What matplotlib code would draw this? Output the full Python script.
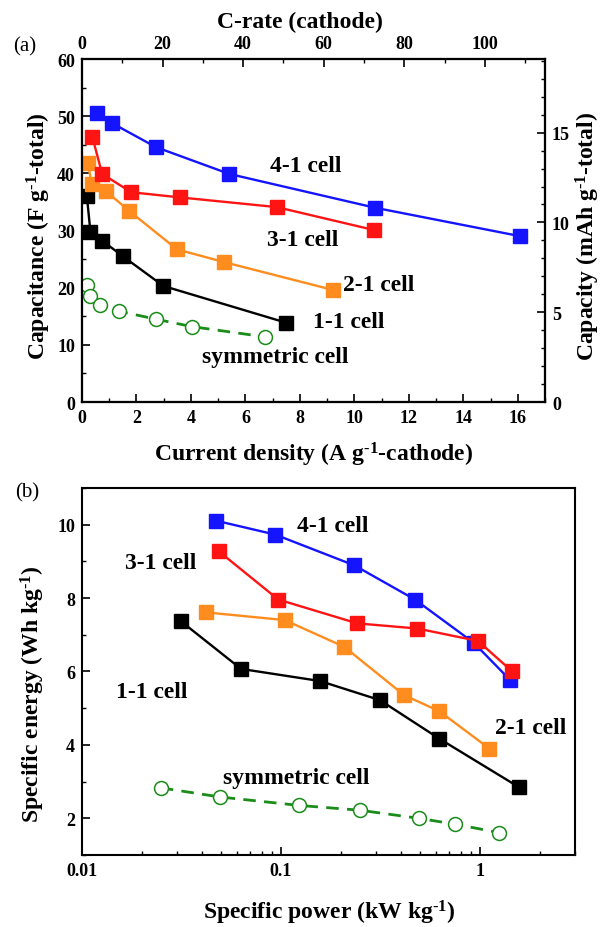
import numpy as np
import matplotlib.pyplot as plt
from matplotlib.ticker import MultipleLocator, LogLocator, NullFormatter

plt.rcParams['font.family'] = 'Liberation Serif'
plt.rcParams['font.weight'] = 'bold'
plt.rcParams['mathtext.fontset'] = 'custom'
plt.rcParams['mathtext.rm'] = 'Liberation Serif:bold'
plt.rcParams['mathtext.it'] = 'Liberation Serif:bold'
plt.rcParams['mathtext.bf'] = 'Liberation Serif:bold'
plt.rcParams['xtick.direction'] = 'in'
plt.rcParams['ytick.direction'] = 'in'
plt.rcParams['xtick.labelsize'] = 13
plt.rcParams['ytick.labelsize'] = 13
plt.rcParams['axes.linewidth'] = 1.5

BLUE = '#1414ff'
RED = '#ff1414'
ORANGE = '#ff8c1e'
BLACK = 'black'
GREEN = '#1a8c1a'

# (a) capacitance vs current density (A g-1 cathode)
j_41 = [0.57, 1.10, 2.71, 5.41, 10.75, 16.1]
cap_41 = [50.6, 48.8, 44.6, 39.9, 34.0, 29.0]
j_31 = [0.38, 0.74, 1.81, 3.59, 7.15, 10.71]
cap_31 = [46.4, 39.9, 36.7, 35.8, 34.1, 30.1]
j_21 = [0.21, 0.36, 0.88, 1.74, 3.49, 5.2, 9.22]
cap_21 = [41.9, 38.1, 36.9, 33.4, 26.7, 24.5, 19.6]
j_11 = [0.18, 0.31, 0.75, 1.5, 2.99, 7.48]
cap_11 = [36.0, 29.8, 28.2, 25.5, 20.3, 13.9]
j_sym = [0.17, 0.28, 0.67, 1.35, 2.71, 4.03, 6.72]
cap_sym = [20.5, 18.5, 17.0, 15.9, 14.5, 13.2, 11.4]

# (b) Ragone plot
p_41 = [0.047, 0.0935, 0.234, 0.471, 0.931, 1.41]
e_41 = [10.11, 9.73, 8.89, 7.96, 6.78, 5.78]
p_31 = [0.0488, 0.0969, 0.242, 0.485, 0.978, 1.445]
e_31 = [9.27, 7.96, 7.31, 7.17, 6.83, 6.01]
p_21 = [0.042, 0.1045, 0.208, 0.417, 0.624, 1.114]
e_21 = [7.61, 7.40, 6.67, 5.35, 4.92, 3.90]
p_11 = [0.0314, 0.063, 0.157, 0.314, 0.624, 1.566]
e_11 = [7.37, 6.07, 5.74, 5.22, 4.17, 2.85]
p_sym = [0.0249, 0.0494, 0.1235, 0.249, 0.492, 0.747, 1.246]
e_sym = [2.83, 2.58, 2.35, 2.22, 2.00, 1.84, 1.61]

C_PER_A = 6.76      # C-rate per A g-1 (cathode)
CAP_MAX = 19.1      # mAh g-1 at top of right axis

SUP = r'$^{\text{-1}}$'


def draw_series(ax, x, y, color):
    ax.plot(x, y, '-', color=color, lw=1.7, marker='s', ms=9.5,
            mec=color, mfc=color, zorder=3)


def draw_sym(ax, x, y):
    ax.plot(x, y, '--', color=GREEN, lw=2.0, dashes=(4.5, 3), marker='o',
            ms=10, mfc='white', mec=GREEN, mew=1.1, zorder=3)


fig = plt.figure(figsize=(6.09, 9.28), dpi=100)

# ---- panel (a)
ax1 = fig.add_axes([0.1346, 0.5657, 0.7603, 0.3696])
draw_sym(ax1, j_sym, cap_sym)
draw_series(ax1, j_11, cap_11, BLACK)
draw_series(ax1, j_21, cap_21, ORANGE)
draw_series(ax1, j_31, cap_31, RED)
draw_series(ax1, j_41, cap_41, BLUE)
ax1.set_xlim(0, 17)
ax1.set_ylim(0, 60)
ax1.xaxis.set_major_locator(MultipleLocator(2))
ax1.xaxis.set_minor_locator(MultipleLocator(1))
ax1.yaxis.set_major_locator(MultipleLocator(10))
ax1.yaxis.set_minor_locator(MultipleLocator(5))
ax1.tick_params(which='major', length=6, width=1.2, pad=5)
ax1.tick_params(which='minor', length=3, width=1.0)

ax_top = ax1.twiny()
ax_top.set_xlim(0, 17 * C_PER_A)
ax_top.xaxis.set_major_locator(MultipleLocator(20))
ax_top.xaxis.set_minor_locator(MultipleLocator(10))
ax_top.tick_params(which='major', length=6, width=1.2, pad=5)
ax_top.tick_params(which='minor', length=3, width=1.0)

ax_right = ax1.twinx()
ax_right.set_ylim(0, CAP_MAX)
ax_right.yaxis.set_major_locator(MultipleLocator(5))
ax_right.yaxis.set_minor_locator(MultipleLocator(1))
ax_right.tick_params(which='major', length=6, width=1.2, pad=5)
ax_right.tick_params(which='minor', length=3, width=1.0)

lab = dict(fontsize=17, fontweight='bold', ha='center', va='center')
ax1.text(8.2, 41.4, '4-1 cell', **lab)
ax1.text(8.1, 28.5, '3-1 cell', **lab)
ax1.text(10.9, 20.5, '2-1 cell', **lab)
ax1.text(9.8, 14.0, '1-1 cell', **lab)
ax1.text(7.1, 7.9, 'symmetric cell', **lab)

fig.text(25 / 609, 1 - 47 / 928, '(a)', fontsize=15, fontweight='normal',
         ha='center', va='center')
fig.text(300 / 609, 1 - 22 / 928, 'C-rate (cathode)', **lab)
fig.text(314 / 609, 1 - 455 / 928,
         'Current density (A g' + SUP + '-cathode)', **lab)
fig.text(39 / 609, 1 - 236 / 928, 'Capacitance (F g' + SUP + '-total)',
         rotation=90, **lab)
fig.text(588 / 609, 1 - 236 / 928, 'Capacity (mAh g' + SUP + '-total)',
         rotation=90, **lab)

# ---- panel (b)
ax2 = fig.add_axes([0.1346, 0.0776, 0.8095, 0.3955])
draw_sym(ax2, p_sym, e_sym)
draw_series(ax2, p_11, e_11, BLACK)
draw_series(ax2, p_21, e_21, ORANGE)
draw_series(ax2, p_41, e_41, BLUE)
draw_series(ax2, p_31, e_31, RED)
ax2.set_xscale('log')
ax2.set_xlim(0.01, 3)
ax2.set_ylim(1, 11)
ax2.set_xticks([0.01, 0.1, 1])
ax2.set_xticklabels(['0.01', '0.1', '1'])
ax2.xaxis.set_minor_locator(LogLocator(base=10, subs=np.arange(2, 10)))
ax2.xaxis.set_minor_formatter(NullFormatter())
ax2.yaxis.set_major_locator(MultipleLocator(2))
ax2.yaxis.set_minor_locator(MultipleLocator(1))
ax2.tick_params(which='major', length=6, width=1.2, pad=5)
ax2.tick_params(which='minor', length=3, width=1.0)

ax2.text(0.1816, 9.97, '4-1 cell', **lab)
ax2.text(0.0249, 8.97, '3-1 cell', **lab)
ax2.text(0.0224, 5.45, '1-1 cell', **lab)
ax2.text(1.79, 4.47, '2-1 cell', **lab)
ax2.text(0.1197, 3.11, 'symmetric cell', **lab)

fig.text(27 / 609, 1 - 493 / 928, '(b)', fontsize=15, fontweight='normal',
         ha='center', va='center')
fig.text(329 / 609, 1 - 913 / 928, 'Specific power (kW kg' + SUP + ')', **lab)
fig.text(33 / 609, 1 - 694 / 928, 'Specific energy (Wh kg' + SUP + ')',
         rotation=90, **lab)

fig.savefig('out.png', dpi=100)
